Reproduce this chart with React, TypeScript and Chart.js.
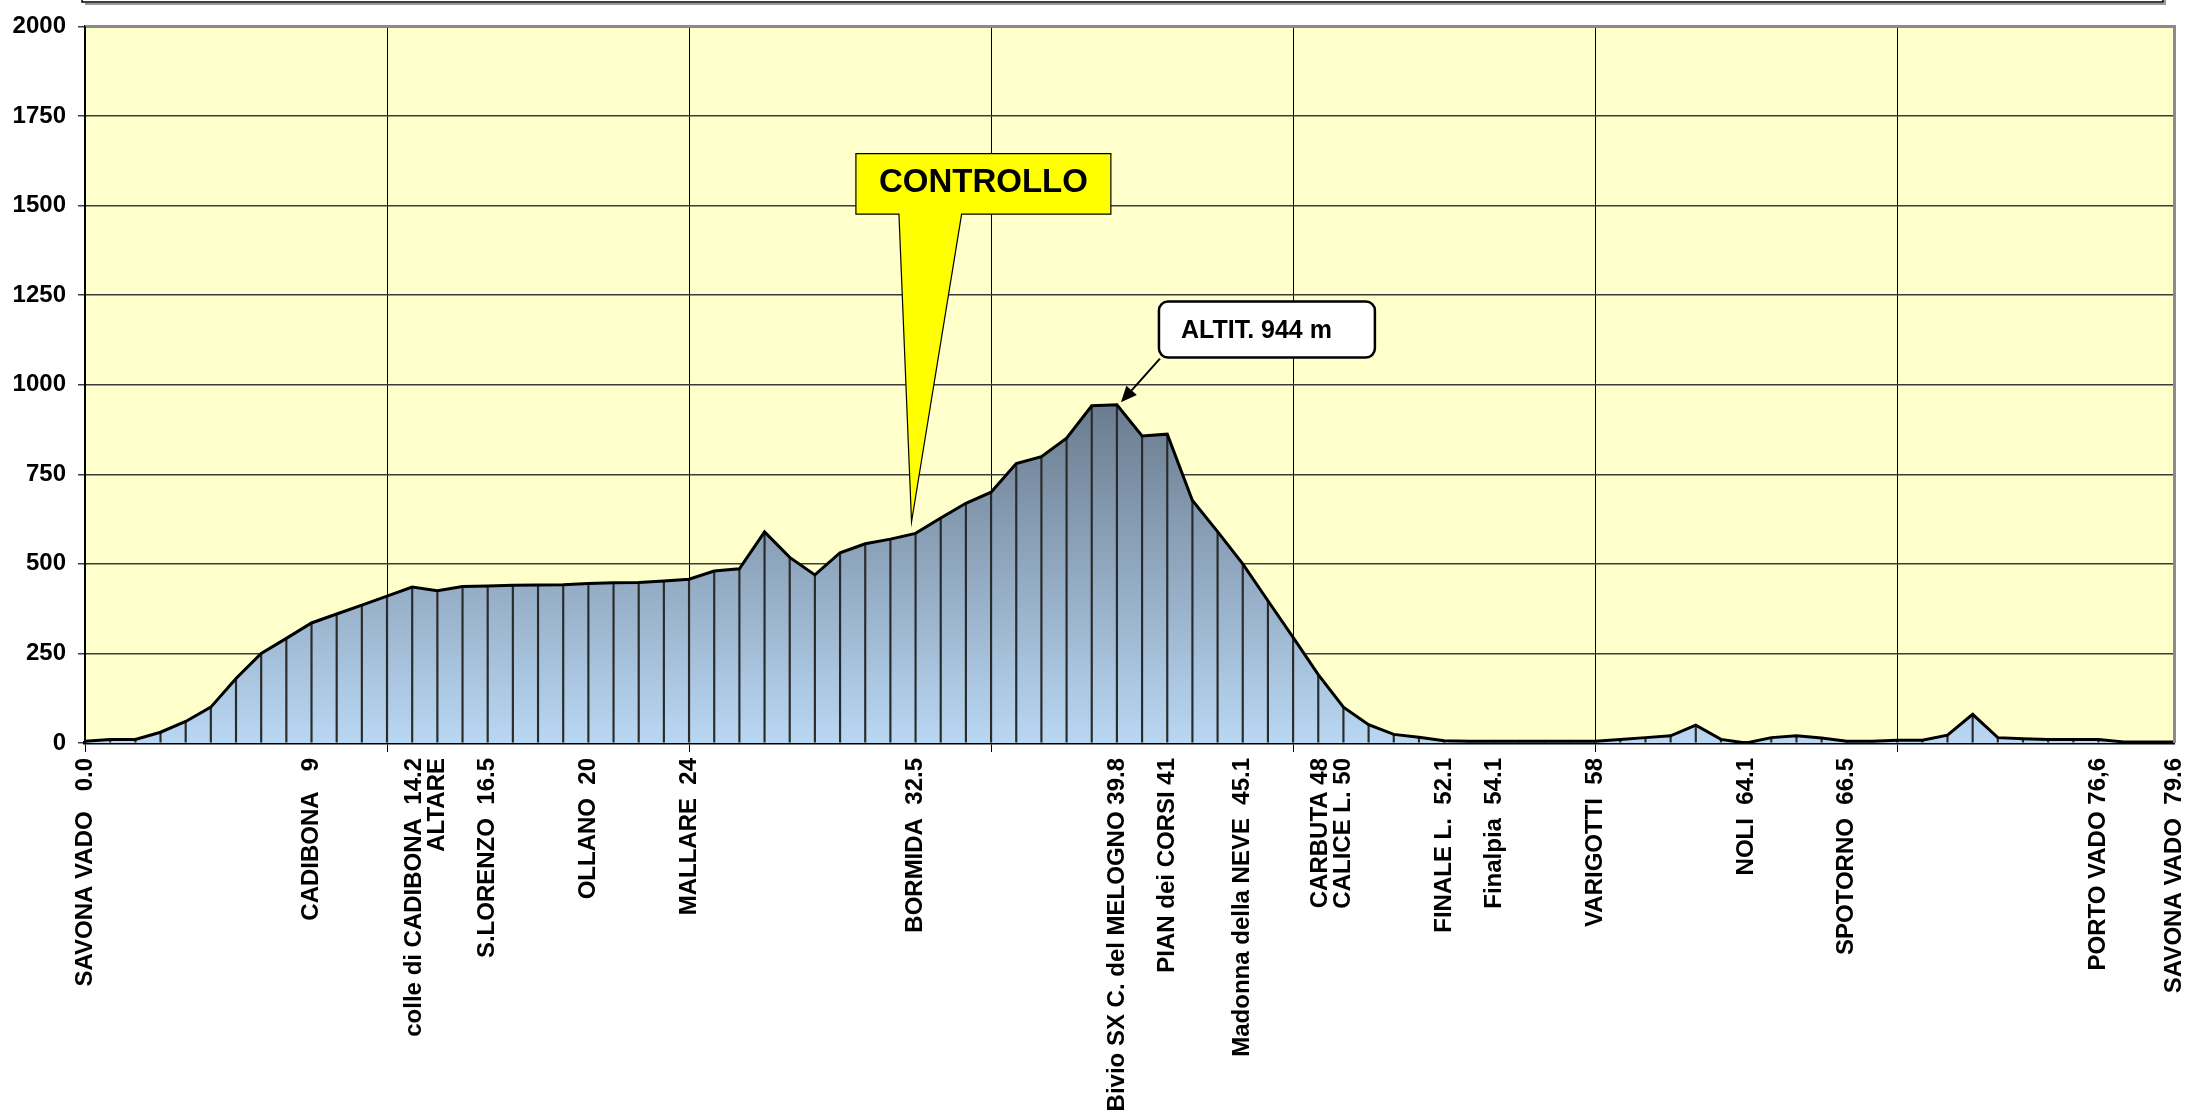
import React, { useEffect, useRef } from 'react';
import { Chart, registerables } from 'chart.js';

Chart.register(...registerables);

// Elevation (m) at each profile point, left to right
const elevations = [
  5, 10, 10, 30, 60, 100, 180, 250, 292, 335,
  360, 385, 410, 435, 425, 437, 438, 440, 441, 442,
  445, 447, 448, 452, 457, 480, 486, 589, 518, 469,
  531, 556, 569, 585, 628, 669, 700, 780, 799, 851,
  941, 944, 857, 862, 677, 590, 500, 397, 295, 191,
  100, 51, 24, 16, 6, 5, 5, 5, 5, 5,
  5, 10, 15, 20, 50, 10, 0, 15, 20, 14,
  5, 5, 8, 8, 22, 80, 15, 12, 10, 10,
  10, 3, 3, 3,
];

// Point index of each named place, and its label text
const stationIndex = [0, 9, 14, 16, 20, 24, 33, 41, 43, 46, 50, 54, 56, 60, 66, 70, 80, 83];
const stationNames = [
  'SAVONA VADO   0.0',
  'CADIBONA   9',
  'colle di CADIBONA  14.2\nALTARE',
  'S.LORENZO  16.5',
  'OLLANO  20',
  'MALLARE  24',
  'BORMIDA  32.5',
  'Bivio SX C. del MELOGNO 39.8',
  'PIAN dei CORSI 41',
  'Madonna della NEVE  45.1',
  'CARBUTA 48\nCALICE L. 50',
  'FINALE L.  52.1',
  'Finalpia  54.1',
  'VARIGOTTI  58',
  'NOLI  64.1',
  'SPOTORNO  66.5',
  'PORTO VADO 76,6',
  'SAVONA VADO  79.6',
];

const yMin = 0;
const yMax = 2000;
const yStep = 250;
const gridEvery = 12;

// Annotations, in data units (category index / metres)
const controlloNote = {
  text: 'CONTROLLO',
  left: 30.63, right: 40.76, top: 1645, bottom: 1476,
  baseLeft: 32.34, baseRight: 34.83, tipX: 32.84, tipY: 617,
};
const altitNote = {
  text: 'ALTIT. 944 m',
  left: 42.67, right: 51.25, top: 1232, bottom: 1076,
  fromX: 42.71, fromY: 1073, toX: 41.16, toY: 951,
};

const FONT = "'Liberation Sans', Arial, sans-serif";

export default function App() {
  const ref = useRef<HTMLCanvasElement>(null);

  useEffect(() => {
    const canvas = ref.current;
    if (!canvas) return;
    const categories = elevations.map((_, i) => {
      const k = stationIndex.indexOf(i);
      return k >= 0 ? stationNames[k] : '';
    });
    const maxElev = Math.max(...elevations);

    const bgPlugin = {
      id: 'plotBg',
      beforeDraw(chart: any) {
        const { ctx, chartArea } = chart;
        ctx.save();
        ctx.fillStyle = '#ffffcc';
        ctx.fillRect(chartArea.left, chartArea.top, chartArea.right - chartArea.left, chartArea.bottom - chartArea.top);
        ctx.restore();
      },
    };

    const overlayPlugin = {
      id: 'overlay',
      afterDraw(chart: any) {
        const { ctx, chartArea } = chart;
        const xs = chart.scales.x;
        const ys = chart.scales.y;
        ctx.save();

        // frame: gray top and right edges
        ctx.strokeStyle = '#8a8a8a';
        ctx.lineWidth = 3;
        ctx.beginPath();
        ctx.moveTo(chartArea.left, chartArea.top);
        ctx.lineTo(chartArea.right + 0.5, chartArea.top);
        ctx.lineTo(chartArea.right + 0.5, chartArea.bottom);
        ctx.stroke();
        // left axis line
        ctx.strokeStyle = '#000';
        ctx.lineWidth = 2;
        ctx.beginPath();
        ctx.moveTo(chartArea.left, chartArea.top);
        ctx.lineTo(chartArea.left, chartArea.bottom);
        ctx.stroke();

        // title box cut at the top
        ctx.strokeStyle = '#9a9a9a';
        ctx.lineWidth = 2;
        ctx.beginPath();
        ctx.moveTo(85, 4);
        ctx.lineTo(2165, 4);
        ctx.lineTo(2165, -2);
        ctx.stroke();
        ctx.strokeStyle = '#000';
        ctx.lineWidth = 1.5;
        ctx.strokeRect(82, -10, 2081, 12);

        // x labels, rotated
        ctx.font = `bold 24px ${FONT}`;
        ctx.fillStyle = '#000';
        ctx.textAlign = 'right';
        ctx.textBaseline = 'middle';
        categories.forEach((label, i) => {
          if (!label) return;
          const lines = label.split('\n');
          const x = xs.getPixelForValue(i);
          ctx.save();
          ctx.translate(x, xs.top + 15);
          ctx.rotate(-Math.PI / 2);
          lines.forEach((ln, j) => ctx.fillText(ln, 0, (j - (lines.length - 1)) * 23));
          ctx.restore();
        });

        // CONTROLLO callout
        const c = controlloNote;
        const L = xs.getPixelForValue(c.left), R = xs.getPixelForValue(c.right);
        const T = ys.getPixelForValue(c.top), B = ys.getPixelForValue(c.bottom);
        ctx.beginPath();
        ctx.moveTo(L, T);
        ctx.lineTo(R, T);
        ctx.lineTo(R, B);
        ctx.lineTo(xs.getPixelForValue(c.baseRight), B);
        ctx.lineTo(xs.getPixelForValue(c.tipX), ys.getPixelForValue(c.tipY));
        ctx.lineTo(xs.getPixelForValue(c.baseLeft), B);
        ctx.lineTo(L, B);
        ctx.closePath();
        ctx.fillStyle = '#ffff00';
        ctx.fill();
        ctx.strokeStyle = '#000';
        ctx.lineWidth = 1.2;
        ctx.stroke();
        ctx.fillStyle = '#000';
        ctx.font = `bold 33px ${FONT}`;
        ctx.textAlign = 'center';
        ctx.textBaseline = 'middle';
        ctx.fillText(c.text, (L + R) / 2, (T + B) / 2 - 1);

        // ALTIT callout
        const a = altitNote;
        const aL = xs.getPixelForValue(a.left), aR = xs.getPixelForValue(a.right);
        const aT = ys.getPixelForValue(a.top), aB = ys.getPixelForValue(a.bottom);
        ctx.beginPath();
        ctx.roundRect(aL, aT, aR - aL, aB - aT, 9);
        ctx.fillStyle = '#fff';
        ctx.fill();
        ctx.strokeStyle = '#000';
        ctx.lineWidth = 2.5;
        ctx.stroke();
        ctx.fillStyle = '#000';
        ctx.font = `bold 25px ${FONT}`;
        ctx.textAlign = 'left';
        ctx.fillText(a.text, aL + 22, (aT + aB) / 2 + 2);
        // arrow
        const fx = xs.getPixelForValue(a.fromX), fy = ys.getPixelForValue(a.fromY);
        const tx = xs.getPixelForValue(a.toX), ty = ys.getPixelForValue(a.toY);
        const ang = Math.atan2(ty - fy, tx - fx);
        const hl = 16, hw = 7;
        const bx = tx - hl * Math.cos(ang), by = ty - hl * Math.sin(ang);
        ctx.lineWidth = 2;
        ctx.beginPath();
        ctx.moveTo(fx, fy);
        ctx.lineTo(bx, by);
        ctx.stroke();
        ctx.beginPath();
        ctx.moveTo(tx, ty);
        ctx.lineTo(bx + hw * Math.sin(ang), by - hw * Math.cos(ang));
        ctx.lineTo(bx - hw * Math.sin(ang), by + hw * Math.cos(ang));
        ctx.closePath();
        ctx.fill();

        ctx.restore();
      },
    };

    const chart = new Chart(canvas, {
      type: 'line',
      data: {
        labels: categories,
        datasets: [
          {
            type: 'line',
            data: elevations,
            borderColor: '#000',
            borderWidth: 3,
            pointRadius: 0,
            tension: 0,
            fill: 'origin',
            order: 0,
            backgroundColor: (ctx: any) => {
              const ch = ctx.chart;
              if (!ch.chartArea) return '#a8c4de';
              const top = ch.scales.y.getPixelForValue(maxElev);
              const bottom = ch.scales.y.getPixelForValue(0);
              const g = ch.ctx.createLinearGradient(0, top, 0, bottom);
              g.addColorStop(0, '#6a7c8f');
              g.addColorStop(1, '#b9d7f3');
              return g;
            },
          } as any,
          {
            type: 'bar',
            data: elevations,
            backgroundColor: '#2a2a2a',
            barThickness: 1.5,
            borderWidth: 0,
            order: 1,
          } as any,
        ],
      },
      options: {
        responsive: false,
        devicePixelRatio: 1,
        animation: false,
        layout: { padding: { left: 8, right: 14, top: 22, bottom: 0 } },
        plugins: {
          legend: { display: false },
          tooltip: { enabled: false },
          filler: { drawTime: 'beforeDatasetsDraw' },
        } as any,
        scales: {
          x: {
            type: 'category',
            offset: false,
            z: 1,
            grid: {
              offset: false,
              color: (ctx: any) => (ctx.index % gridEvery === 0 ? '#000' : 'rgba(0,0,0,0)'),
              lineWidth: 1,
              drawTicks: true,
              tickLength: 9,
            },
            border: { display: true, color: '#000', width: 3.5 },
            ticks: { display: false, autoSkip: false },
            afterFit: (s: any) => { s.height = 369; },
          },
          y: {
            min: yMin,
            max: yMax,
            ticks: {
              stepSize: yStep,
              color: '#000',
              padding: 12,
              font: { family: FONT, weight: 'bold', size: 24 },
              callback: (v: any) => String(v),
            },
            grid: { color: '#3c3c3c', lineWidth: 1.5, tickLength: 7 },
            border: { display: true, color: '#000', width: 2 },
            afterFit: (s: any) => { s.width = 77; },
          },
        } as any,
      },
      plugins: [bgPlugin, overlayPlugin],
    } as any);

    return () => chart.destroy();
  }, []);

  return (
    <div style={{ position: 'absolute', left: 0, top: 0, width: 2188, height: 1112, overflow: 'hidden', background: '#fff' }}>
      <canvas ref={ref} width={2188} height={1112} style={{ width: 2188, height: 1112, display: 'block' }} />
    </div>
  );
}
